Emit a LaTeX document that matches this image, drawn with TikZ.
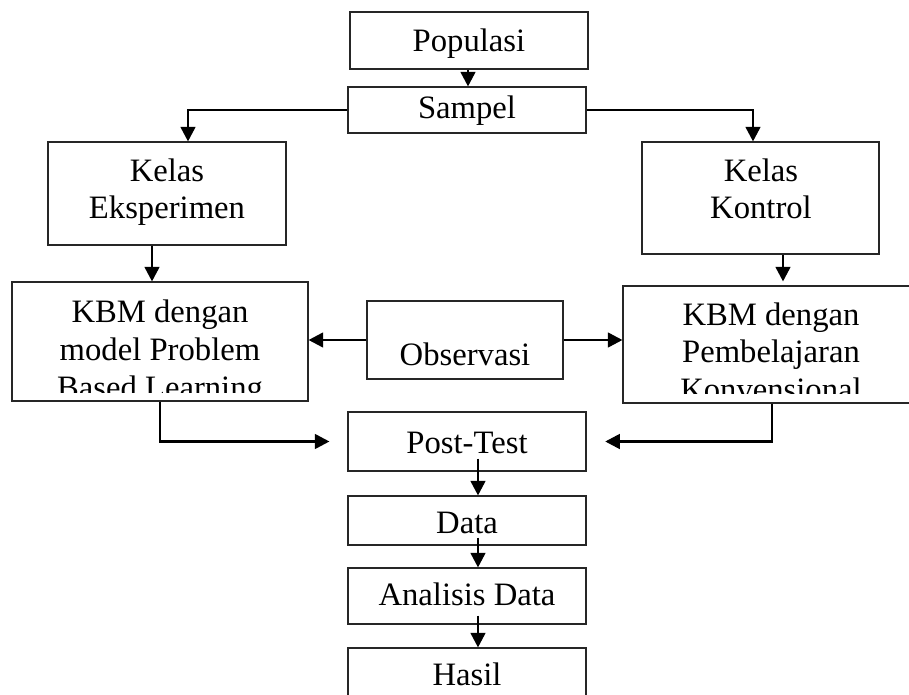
\documentclass[tikz,border=0pt]{standalone}
\usepackage{fontspec}
\setmainfont{Liberation Serif}
\usetikzlibrary{arrows.meta,fit}
\begin{document}
\begin{tikzpicture}[x=0.75pt,y=-0.75pt,
  box/.style={draw=black!85,line width=0.8pt,inner sep=0pt,rectangle},
  txt/.style={anchor=base,inner sep=0pt,font=\fontsize{24.5}{28}\selectfont},
  arr/.style={draw=black,line width=2pt,-{Triangle[length=11pt,width=11pt]}},
  ln/.style={draw=black,line width=2pt}]
\useasboundingbox[fill=white] (0,0) rectangle (909,695);
% boxes
\node[box,fit={(350,12)(588,69)}] (pop) {};
\node[box,fit={(348,87)(586,133)}] (samp) {};
\node[box,fit={(48,142)(286,245)}] (eks) {};
\node[box,fit={(642,142)(879,254)}] (kon) {};
\node[box,fit={(12,282)(308,401)}] (kbmL) {};
\node[box,fit={(367,301)(563,379)}] (obs) {};
\node[box,fit={(623,286)(919,403)}] (kbmR) {};
\node[box,fit={(348,412)(586,471)}] (post) {};
\node[box,fit={(348,496)(586,545)}] (data) {};
\node[box,fit={(348,568)(586,624)}] (anal) {};
\node[box,fit={(348,648)(586,720)}] (has) {};
% texts
\node[txt] (tpop) at (469,52) {Populasi};
\node[txt] (tsamp) at (467,119) {Sampel};
\node[txt] (teks1) at (167,182) {Kelas};
\node[txt] (teks2) at (167,219) {Eksperimen};
\node[txt] (tkon1) at (761,182) {Kelas};
\node[txt] (tkon2) at (761,219) {Kontrol};
\begin{scope}
\clip (12,282) rectangle (308,392);
\node[txt] (tkL1) at (160,322) {KBM dengan};
\node[txt] (tkL2) at (160,360) {model Problem};
\node[txt] (tkL3) at (160,398) {Based Learning};
\end{scope}
\node[txt] (tobs) at (465,365) {Observasi};
\begin{scope}
\clip (623,286) rectangle (919,393);
\node[txt] (tkR1) at (771,325) {KBM dengan};
\node[txt] (tkR2) at (771,362) {Pembelajaran};
\node[txt] (tkR3) at (771,400) {Konvensional};
\end{scope}
\node[txt] (tpost) at (467,453) {Post-Test};
\node[txt] (tdata) at (467,533) {Data};
\node[txt] (tanal) at (467,605) {Analisis Data};
\node[txt] (thas) at (467,685) {Hasil};
% helper coordinates
\coordinate (xpop) at (468,0);
\coordinate (xeks) at (188,0);
\coordinate (xkon) at (753,0);
\coordinate (xeks2) at (152,0);
\coordinate (xkon2) at (783,0);
\coordinate (xmid) at (478,0);
% connectors
\draw[arr] (xpop |- pop.south) -- (xpop |- samp.north);
\draw[arr] (samp.west) -| (xeks |- eks.north);
\draw[arr] (samp.east) -| (xkon |- kon.north);
\draw[arr] (xeks2 |- eks.south) -- (xeks2 |- kbmL.north);
\draw[arr] (xkon2 |- kon.south) -- ([yshift=3pt]xkon2 |- kbmR.north);
\draw[arr] (obs.west) -- (obs.west -| kbmL.east);
\draw[arr] (obs.east) -- (obs.east -| kbmR.west);
\draw[arr,shorten >=13.5pt] (kbmL.south) |- (post.west);
\draw[arr,shorten >=14pt] ([xshift=0.75pt]kbmR.south) |- (post.east);
\draw[arr] ([yshift=9.75pt]xmid |- post.south) -- (xmid |- data.north);
\draw[arr] ([yshift=6pt]xmid |- data.south) -- (xmid |- anal.north);
\draw[arr] ([yshift=6.75pt]xmid |- anal.south) -- (xmid |- has.north);
\end{tikzpicture}
\end{document}
